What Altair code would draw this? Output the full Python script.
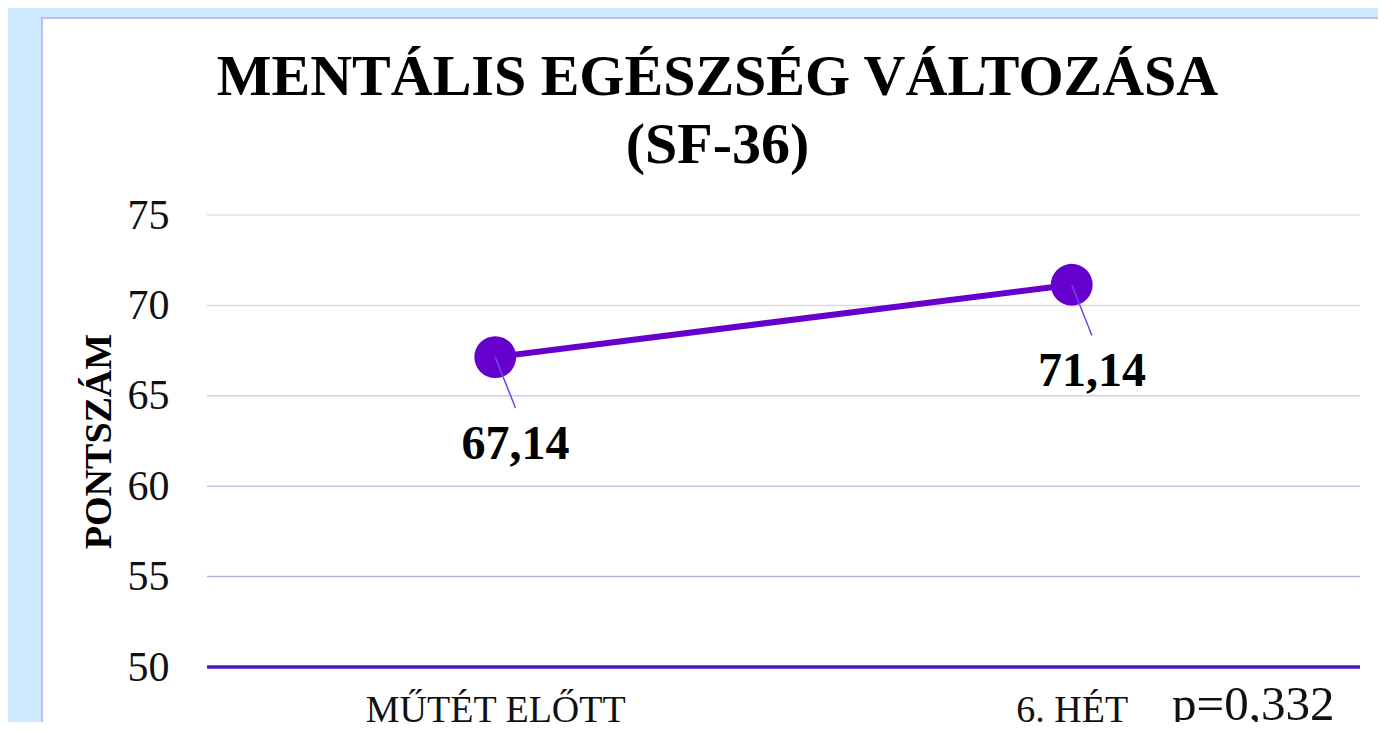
import altair as alt
import pandas as pd

categories = ["MŰTÉT ELŐTT", "6. HÉT"]
scores = [67.14, 71.14]
score_labels = ["67,14", "71,14"]
y_ticks = [50, 55, 60, 65, 70, 75]
p_text = ["p=0,332"]
title_lines = ["MENTÁLIS EGÉSZSÉG VÁLTOZÁSA", "(SF-36)"]
y_title = "PONTSZÁM"

SERIF = "Liberation Serif"
PURPLE = "#6600CC"

df = pd.DataFrame({
    "idx": list(range(len(categories))),
    "cat": categories,
    "score": scores,
    "label": score_labels,
})

label_expr = " : ".join(
    [f"datum.value == {i} ? '{c}'" for i, c in enumerate(categories)]
) + " : ''"

x_scale = alt.Scale(domain=[-0.5, len(categories) - 0.5], nice=False, zero=False)
y_scale = alt.Scale(domain=[y_ticks[0], y_ticks[-1]], nice=False, zero=False)

x_axis = alt.Axis(values=list(range(len(categories))), labelExpr=label_expr,
                  domain=False, ticks=False, grid=False, zindex=2,
                  labelFont=SERIF, labelFontSize=38, labelColor="#111111",
                  labelPadding=24, labelAngle=0, labelLimit=0)
y_axis = alt.Axis(values=y_ticks, domain=False, ticks=False, grid=False, zindex=2,
                  labelFont=SERIF, labelFontSize=42, labelColor="#111111",
                  labelPadding=38, titleFont=SERIF, titleFontSize=38,
                  titleFontWeight="bold", titleColor="black", titlePadding=9)

# decorative white panel
panel = alt.Chart(pd.DataFrame({"a": [0]})).mark_rect(
    fill="white", stroke="#C8B8F8", strokeWidth=2
).encode(x=alt.value(-165), x2=alt.value(1250), y=alt.value(-197), y2=alt.value(600))

grid_df = pd.DataFrame({"v": y_ticks[1:]})
grid = alt.Chart(grid_df).mark_rule(strokeWidth=1.5).encode(
    y=alt.Y("v:Q", scale=y_scale, axis=y_axis, title=y_title),
    color=alt.Color("v:O", legend=None,
                    scale=alt.Scale(domain=y_ticks[1:],
                                    range=["#B8B2DA", "#C6C2E2", "#D0CDE6", "#DAD8EA", "#E0E0EC"])),
)

base_df = pd.DataFrame({"v": y_ticks[:1]})
baseline = alt.Chart(base_df).mark_rule(strokeWidth=3.5, color="#4B18C4").encode(
    y=alt.Y("v:Q", scale=y_scale, title=y_title)
)

base = alt.Chart(df)
line = base.mark_line(color=PURPLE, strokeWidth=6).encode(
    x=alt.X("idx:Q", scale=x_scale, axis=x_axis, title=None),
    y=alt.Y("score:Q", scale=y_scale, title=y_title),
)
points = base.mark_circle(size=1750, color=PURPLE, opacity=1).encode(
    x=alt.X("idx:Q", scale=x_scale, title=None),
    y=alt.Y("score:Q", scale=y_scale, title=y_title),
)
leader = base.transform_calculate(
    lx="datum.idx + 0.035", ly="datum.score - 2.8"
).mark_rule(color="#7048E8", strokeWidth=1.5).encode(
    x=alt.X("idx:Q", scale=x_scale, title=None),
    y=alt.Y("score:Q", scale=y_scale, title=y_title),
    x2="lx:Q", y2="ly:Q",
)
labels = base.transform_calculate(
    lx="datum.idx + 0.035", ly="datum.score - 2.8"
).mark_text(font=SERIF, fontSize=48, fontWeight="bold", color="black",
            align="center", baseline="alphabetic", dy=51).encode(
    x=alt.X("lx:Q", scale=x_scale, title=None),
    y=alt.Y("ly:Q", scale=y_scale, title=y_title),
    text="label:N",
)

ptxt = alt.Chart(pd.DataFrame({"t": p_text})).mark_text(
    font=SERIF, fontSize=49, color="#111111", align="left", baseline="alphabetic"
).encode(x=alt.value(965), y=alt.value(505), text="t:N")

chart = alt.layer(panel, grid, baseline, line, points, leader, labels, ptxt).properties(
    width=1153, height=452,
    autosize=alt.AutoSizeParams(type="none"),
    padding={"left": 199, "top": 207, "right": 18, "bottom": 55},
    title=alt.TitleParams(text=title_lines, font=SERIF, fontSize=58, fontWeight="bold",
                          color="black", anchor="middle", frame="group", dx=-66,
                          lineHeight=68, offset=-158),
).configure(background="#CCE9FF").configure_view(stroke=None)

chart.save("out.html", embed_options={"renderer": "svg", "actions": False})
